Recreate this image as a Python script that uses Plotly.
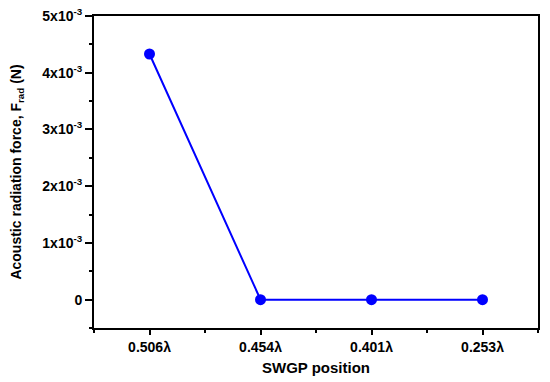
import plotly.graph_objects as go

categories = ["0.506λ", "0.454λ", "0.401λ", "0.253λ"]
force_values = [4.33e-3, 0.0, 0.0, 0.0]
y_tick_vals = [0, 1e-3, 2e-3, 3e-3, 4e-3, 5e-3]
y_tick_text = ["0", "1x10<sup>-3</sup>", "2x10<sup>-3</sup>", "3x10<sup>-3</sup>",
               "4x10<sup>-3</sup>", "5x10<sup>-3</sup>"]

xpos = list(range(len(categories)))

fig = go.Figure()
fig.add_trace(go.Scatter(
    x=xpos, y=force_values, mode="lines+markers",
    line=dict(color="#0000ff", width=2),
    marker=dict(color="#0000ff", size=11),
    showlegend=False,
))

font = dict(family="Liberation Sans, Arial", color="black", size=14, weight="bold")

fig.update_layout(
    width=550, height=382,
    margin=dict(l=94, r=12, t=16, b=54),
    paper_bgcolor="white", plot_bgcolor="white",
    font=font,
    xaxis=dict(
        range=[-0.5, 3.5], automargin=False,
        tickmode="array", tickvals=xpos, ticktext=categories,
        ticks="outside", ticklen=5, tickwidth=1.5, tickcolor="black",
        minor=dict(tickmode="linear", tick0=-0.5, dtick=1, ticks="outside",
                   ticklen=3, tickwidth=1.5, tickcolor="black", showgrid=False),
        showline=True, linewidth=2, linecolor="black", mirror=True,
        showgrid=False, zeroline=False,
        title=dict(text="SWGP position", font=dict(size=15, weight="bold"), standoff=9),
        tickfont=dict(size=14, weight="bold"),
    ),
    yaxis=dict(
        range=[-0.5e-3, 5.0001e-3], automargin=False, ticklabeloverflow="allow",
        tickmode="array", tickvals=y_tick_vals, ticktext=y_tick_text,
        ticks="outside", ticklen=7, tickwidth=1.5, tickcolor="black",
        minor=dict(tickmode="linear", tick0=0, dtick=0.5e-3, ticks="outside",
                   ticklen=3, tickwidth=1.5, tickcolor="black", showgrid=False),
        showline=True, linewidth=2, linecolor="black", mirror=True,
        showgrid=False, zeroline=False,
        title=dict(text="Acoustic radiation force, F<sub>rad</sub> (N)",
                   font=dict(size=14, weight="bold"), standoff=17),
        tickfont=dict(size=14, weight="bold"),
    ),
)

fig.write_html("out.html",
               config={"displayModeBar": False},
               post_script="document.body.style.margin='0';document.body.style.overflow='hidden';")
